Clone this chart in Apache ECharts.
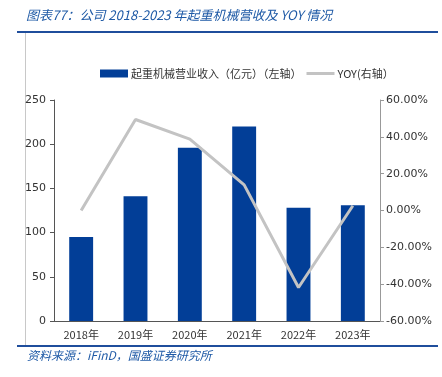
<!DOCTYPE html>
<html>
<head>
<meta charset="utf-8">
<script src="https://cdn.jsdelivr.net/npm/echarts@6/dist/echarts.min.js"></script>
<style>
  html, body { margin: 0; padding: 0; background: #fff; }
  #chart { width: 442px; height: 377px; }
</style>
</head>
<body>
<div id="chart"></div>
<script>
const years = ['2018年', '2019年', '2020年', '2021年', '2022年', '2023年'];
const revenue = [95, 141, 196, 220, 128, 131];
const yoy = [0, 49.4, 38.8, 13.9, -41.8, 2.6];

const blue = '#023e97';
const grey = '#c3c3c3';
const cjk = '"Noto Sans CJK SC", "DejaVu Sans", sans-serif';
const num = '"DejaVu Sans", Verdana, sans-serif';

const chart = echarts.init(document.getElementById('chart'), null, { renderer: 'canvas' });

const option = {
    animation: false,
    backgroundColor: '#fff',
    graphic: {
        elements: [
            {
                type: 'text', left: 26, top: 9,
                style: {
                    text: '图表77：公司 2018-2023 年起重机械营收及 YOY 情况',
                    font: 'italic 13px "Noto Sans CJK SC", sans-serif',
                    fill: '#1f5aa6'
                }
            },
            { type: 'line', shape: { x1: 17, y1: 32, x2: 438, y2: 32 }, style: { stroke: '#1f4e9c', lineWidth: 2 } },
            { type: 'line', shape: { x1: 25.5, y1: 33, x2: 25.5, y2: 345 }, style: { stroke: '#c8c8c8', lineWidth: 1 } },
            { type: 'line', shape: { x1: 17, y1: 346, x2: 438, y2: 346 }, style: { stroke: '#1f4e9c', lineWidth: 2 } },
            {
                type: 'text', left: 27, top: 349,
                style: {
                    text: '资料来源：iFinD，国盛证券研究所',
                    font: 'italic 12px "Noto Sans CJK SC", sans-serif',
                    fill: '#1f5aa6'
                }
            }
        ]
    },
    legend: {
        left: 95,
        top: 63,
        itemGap: 5,
        itemWidth: 28,
        itemHeight: 8,
        symbolKeepAspect: true,
        textStyle: { fontFamily: cjk, fontSize: 11, color: '#333', padding: [0, 0, 0, -2] },
        data: [
            { name: '起重机械营业收入（亿元）（左轴）', icon: 'rect' },
            { name: 'YOY(右轴）', icon: 'path://M0,0h28v3h-28z', itemStyle: { color: grey } }
        ]
    },
    grid: { left: 54, right: 62, top: 100, bottom: 56 },
    xAxis: {
        type: 'category',
        data: years,
        axisLine: { lineStyle: { color: '#555', width: 1 } },
        axisTick: { inside: true, length: 4, lineStyle: { color: '#555' } },
        axisLabel: { fontFamily: cjk, fontSize: 11, color: '#333', margin: 8 }
    },
    yAxis: [
        {
            type: 'value', min: 0, max: 250, interval: 50,
            splitLine: { show: false },
            axisLine: { show: true, lineStyle: { color: '#555' } },
            axisTick: { show: true, length: 4, lineStyle: { color: '#555' } },
            axisLabel: { fontFamily: num, fontSize: 11, color: '#333', margin: 8 }
        },
        {
            type: 'value', min: -60, max: 60, interval: 20,
            splitLine: { show: false },
            axisLine: { show: true, lineStyle: { color: '#999' } },
            axisTick: { show: true, length: 4, lineStyle: { color: '#999' } },
            axisLabel: {
                fontFamily: num, fontSize: 11, color: '#333', margin: 6,
                formatter: v => v.toFixed(2) + '%'
            }
        }
    ],
    series: [
        {
            name: '起重机械营业收入（亿元）（左轴）',
            type: 'bar',
            data: revenue,
            barWidth: '44%',
            itemStyle: { color: blue }
        },
        {
            name: 'YOY(右轴）',
            type: 'line',
            yAxisIndex: 1,
            data: yoy,
            symbol: 'none',
            lineStyle: { color: grey, width: 3 },
            itemStyle: { color: grey }
        }
    ]
};

chart.setOption(option);
</script>
</body>
</html>
